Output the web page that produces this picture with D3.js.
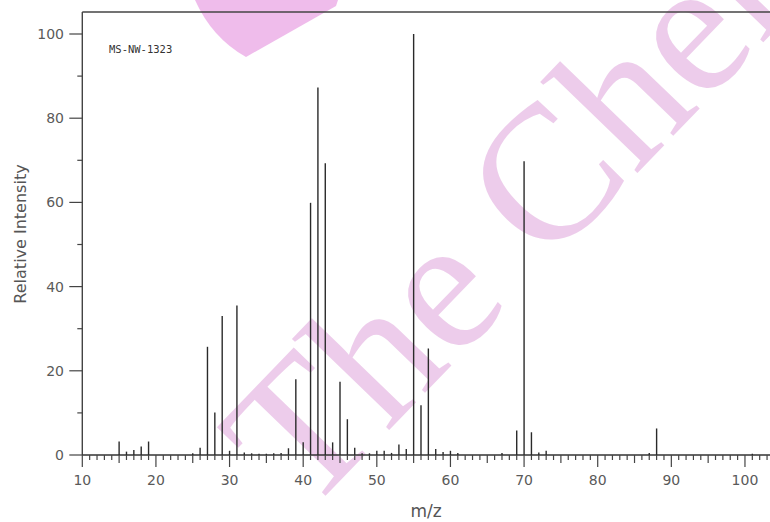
<!DOCTYPE html>
<html>
<head>
<meta charset="utf-8">
<script src="https://cdn.jsdelivr.net/npm/d3@7"></script>
<style>
  body { margin: 0; background: #fff; }
  svg { display: block; }
  .tick-label { font-family: "DejaVu Sans", sans-serif; font-size: 14px; fill: #5a5a5a; }
</style>
</head>
<body>
<svg class="canvas-ele"></svg>
<script>
  // mass spectrum peaks
  var mzValues = [15, 16, 17, 18, 19, 25, 26, 27, 28, 29, 30, 31, 32, 33, 34, 35, 36, 37, 38, 39,
                  40, 41, 42, 43, 44, 45, 46, 47, 48, 49, 50, 51, 52, 53, 54, 55, 56, 57, 58, 59,
                  60, 61, 67, 69, 70, 71, 72, 73, 87, 88, 101];
  var intensities = [3.2, 0.8, 1.2, 2.0, 3.2, 0.4, 1.7, 25.7, 10.1, 33.0, 1.0, 35.5, 0.6, 0.4, 0.3, 0.3, 0.4, 0.5, 1.6, 18.0,
                     3.0, 59.9, 87.3, 69.3, 3.0, 17.4, 8.5, 1.7, 0.4, 0.4, 1.0, 1.0, 0.5, 2.5, 1.4, 100, 11.8, 25.3, 1.4, 0.7,
                     1.0, 0.5, 0.5, 5.8, 69.8, 5.4, 0.6, 1.0, 0.5, 6.3, 0.3];
  var xTickLabels = [10, 20, 30, 40, 50, 60, 70, 80, 90, 100];
  var yTickLabels = [0, 20, 40, 60, 80, 100];
  var sampleName = "MS-NW-1323";
  var watermarkText = "The Chem";

  var width = 770, height = 522;
  var svg = d3.select('svg.canvas-ele').attr('width', width).attr('height', height);

  var x = d3.scaleLinear().domain([10, 103.4]).range([82.3, 770]);
  var y = d3.scaleLinear().domain([0, 100]).range([455, 34]);

  // watermark behind everything
  var wm = svg.append('g');
  wm.append('path')
    .attr('d', 'M195,0 Q212,38 246,57 L336,6 L338,0 Z')
    .attr('fill', '#e07ad8').attr('opacity', 0.5);
  wm.append('text')
    .attr('transform', 'translate(305,517) rotate(-46)')
    .attr('font-family', '"Liberation Serif", serif')
    .attr('font-size', 192)
    .attr('fill', '#dc9bd8')
    .attr('opacity', 0.5)
    .text(watermarkText);

  // frame: top line + y axis line
  svg.append('line')
    .attr('x1', x(10)).attr('x2', width).attr('y1', 12).attr('y2', 12)
    .attr('stroke', '#444').attr('stroke-width', 1.4);
  svg.append('line')
    .attr('x1', x(10)).attr('x2', x(10)).attr('y1', 12).attr('y2', y(0))
    .attr('stroke', '#444').attr('stroke-width', 1.4);

  // y axis ticks
  var yMinor = d3.range(10, 100, 20);
  svg.selectAll('line.ymajor').data(yTickLabels).enter().append('line')
    .attr('class', 'ymajor')
    .attr('x1', x(10) - 13).attr('x2', x(10))
    .attr('y1', function(d) { return y(d); }).attr('y2', function(d) { return y(d); })
    .attr('stroke', '#444').attr('stroke-width', 1.2);
  svg.selectAll('line.yminor').data(yMinor).enter().append('line')
    .attr('class', 'yminor')
    .attr('x1', x(10) - 5).attr('x2', x(10))
    .attr('y1', function(d) { return y(d); }).attr('y2', function(d) { return y(d); })
    .attr('stroke', '#444').attr('stroke-width', 1.2);
  svg.selectAll('text.ylab').data(yTickLabels).enter().append('text')
    .attr('class', 'ylab tick-label')
    .attr('x', 64).attr('y', function(d) { return y(d); })
    .attr('dy', '0.36em')
    .attr('text-anchor', 'end')
    .text(function(d) { return d; });

  // x axis line and ticks (every unit)
  svg.append('line')
    .attr('x1', x(10)).attr('x2', width).attr('y1', y(0)).attr('y2', y(0))
    .attr('stroke', '#333').attr('stroke-width', 1.5);
  var xTicks = d3.range(10, 104, 1);
  svg.selectAll('line.xtick').data(xTicks).enter().append('line')
    .attr('class', 'xtick')
    .attr('x1', function(d) { return x(d); }).attr('x2', function(d) { return x(d); })
    .attr('y1', y(0))
    .attr('y2', function(d) { return y(0) + (d % 10 === 0 ? 12 : (d % 5 === 0 ? 8 : 5)); })
    .attr('stroke', '#444').attr('stroke-width', 1.2);
  svg.selectAll('text.xlab').data(xTickLabels).enter().append('text')
    .attr('class', 'xlab tick-label')
    .attr('x', function(d) { return x(d); }).attr('y', 485)
    .attr('text-anchor', 'middle')
    .text(function(d) { return d; });

  // peaks
  svg.selectAll('line.peak').data(mzValues).enter().append('line')
    .attr('class', 'peak')
    .attr('x1', function(d) { return x(d); }).attr('x2', function(d) { return x(d); })
    .attr('y1', y(0))
    .attr('y2', function(d, i) { return y(intensities[i]); })
    .attr('stroke', '#2a2a2a').attr('stroke-width', 1.4);

  // labels
  svg.append('text')
    .attr('x', 109).attr('y', 53)
    .attr('font-family', '"DejaVu Sans Mono", monospace')
    .attr('font-size', 10.5)
    .attr('fill', '#333')
    .text(sampleName);
  svg.append('text')
    .attr('x', 426).attr('y', 517)
    .attr('text-anchor', 'middle')
    .attr('font-family', '"DejaVu Sans", sans-serif')
    .attr('font-size', 17)
    .attr('fill', '#555')
    .text('m/z');
  svg.append('text')
    .attr('transform', 'translate(26,234) rotate(-90)')
    .attr('text-anchor', 'middle')
    .attr('font-family', '"DejaVu Sans", sans-serif')
    .attr('font-size', 16)
    .attr('fill', '#555')
    .text('Relative Intensity');
</script>
</body>
</html>
